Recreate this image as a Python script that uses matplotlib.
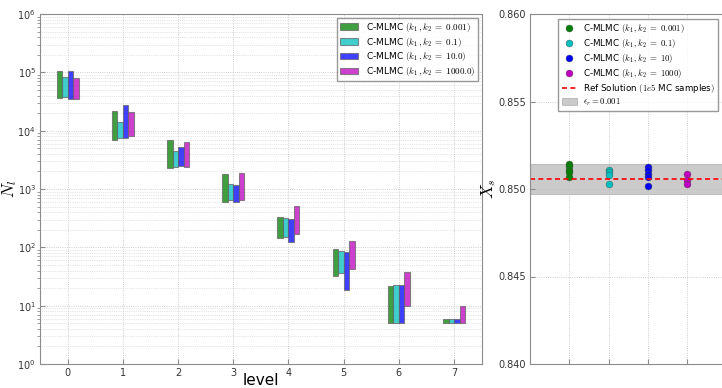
import numpy as np
import matplotlib
matplotlib.use('Agg')
import matplotlib.pyplot as plt

plt.rcParams['mathtext.fontset'] = 'cm'
plt.rcParams['font.family'] = 'DejaVu Sans'

# Datos: numero de muestras por nivel (min y max) para cada caso
levels = np.arange(8)
etiquetas = ['0.001', '0.1', '10.0', '1000.0']
etiquetas_x = ['0.001', '0.1', '10', '1000']
colores = ['g', 'c', 'b', 'm']

n_min = [
    [3.7e4, 6.9e3, 2.32e3, 592, 143, 31.9, 5, 5],
    [3.8e4, 7.5e3, 2.38e3, 640, 150, 36.3, 5, 5],
    [3.45e4, 7.5e3, 2.45e3, 607, 125, 18.8, 5, 5],
    [3.45e4, 8.0e3, 2.38e3, 640, 169, 43, 10, 5],
]
n_max = [
    [1.05e5, 2.17e4, 6.9e3, 1.81e3, 335, 92.5, 21.5, 6],
    [8.4e4, 1.43e4, 4.48e3, 1.22e3, 323, 87.7, 22.6, 6],
    [1.05e5, 2.76e4, 5.3e3, 1.17e3, 306, 83.2, 22.6, 6],
    [7.9e4, 2.06e4, 6.4e3, 1.86e3, 505, 130, 37.8, 10],
]

# Estimaciones X_s para cada caso
xs_vals = [
    [0.8514, 0.8513, 0.8511, 0.8510, 0.8507],
    [0.8511, 0.85095, 0.8508, 0.85027],
    [0.85126, 0.85107, 0.85087, 0.85069, 0.85019],
    [0.85087, 0.85053, 0.8503],
]
ref = 0.85059
eps_r = 0.001

fig = plt.figure(figsize=(7.22, 3.88), dpi=100)
ax1 = fig.add_axes([40/722, 24/388, 441.7/722, 350/388])
ax2 = fig.add_axes([530/722, 24/388, 196.5/722, 350/388])
ax1.set_axisbelow(True)
ax2.set_axisbelow(True)

# GRAFICA izquierda: barras flotantes
offsets = [-0.2, -0.1, 0.0, 0.1]
for i in range(4):
    lo = np.array(n_min[i])
    hi = np.array(n_max[i])
    ax1.bar(levels + offsets[i], hi - lo, bottom=lo, width=0.1, align='edge',
            color=colores[i], alpha=0.75, edgecolor='0.4', linewidth=0.8,
            label=r'C-MLMC $(k_1\,,k_2\;=\;' + etiquetas[i] + ')$')

ax1.set_yscale('log')
ax1.set_ylim(1, 1e6)
ax1.set_xlim(-0.5, 7.5)
ax1.set_xticks(levels)
ax1.grid(True, which='major', linestyle=':', color='0.75', linewidth=0.6)
ax1.grid(True, which='minor', axis='y', linestyle=':', color='0.8', linewidth=0.5)
ax1.set_xlabel('level', fontsize=11, labelpad=-4)
ax1.set_ylabel(r'$N_l$', fontsize=12)
ax1.yaxis.set_label_coords(-0.048, 0.5)
ax1.legend(loc='upper right', fontsize=6.5, fancybox=False, edgecolor='0.5',
           borderaxespad=0.4, handlelength=2.0, labelspacing=0.2,
           borderpad=0.35)

# GRAFICA derecha: estimaciones
for i in range(4):
    ax2.plot(np.full(len(xs_vals[i]), i + 1), xs_vals[i], 'o', color=colores[i],
             markersize=5, markeredgecolor='0.3', markeredgewidth=0.3,
             label=r'C-MLMC $(k_1\,,k_2\;=\;' + etiquetas_x[i] + ')$')
ax2.axhline(ref, color='red', linestyle='--', linewidth=1.2, dashes=(3, 2),
            label=r'Ref Solution $(1e5$ MC samples$)$')
ax2.axhspan(ref * (1 - eps_r), ref * (1 + eps_r), color='0.6', alpha=0.5,
            linewidth=0.8, label=r'$\epsilon_r = 0.001$', zorder=0)
ax2.set_xlim(0, 5)
ax2.set_ylim(0.840, 0.860)
ax2.set_xticks([1, 2, 3, 4])
ax2.set_xticklabels([])
ax2.set_yticks([0.840, 0.845, 0.850, 0.855, 0.860])
ax2.grid(True, linestyle=':', color='0.75', linewidth=0.6)
ax2.set_ylabel(r'$X_s$', fontsize=12)
ax2.yaxis.set_label_coords(-0.165, 0.5)
ax2.legend(loc='upper left', bbox_to_anchor=(0.145, 0.986), fontsize=6.3,
           fancybox=False, edgecolor='0.5', handlelength=1.8,
           handletextpad=0.6, labelspacing=0.22, borderpad=0.35,
           borderaxespad=0)

for ax in (ax1, ax2):
    for s in ax.spines.values():
        s.set_color('0.55')
    ax.tick_params(labelsize=7, colors='0.2', direction='in', pad=3)
    ax.tick_params(which='both', color='0.55')

fig.savefig('out.png', dpi=100)
